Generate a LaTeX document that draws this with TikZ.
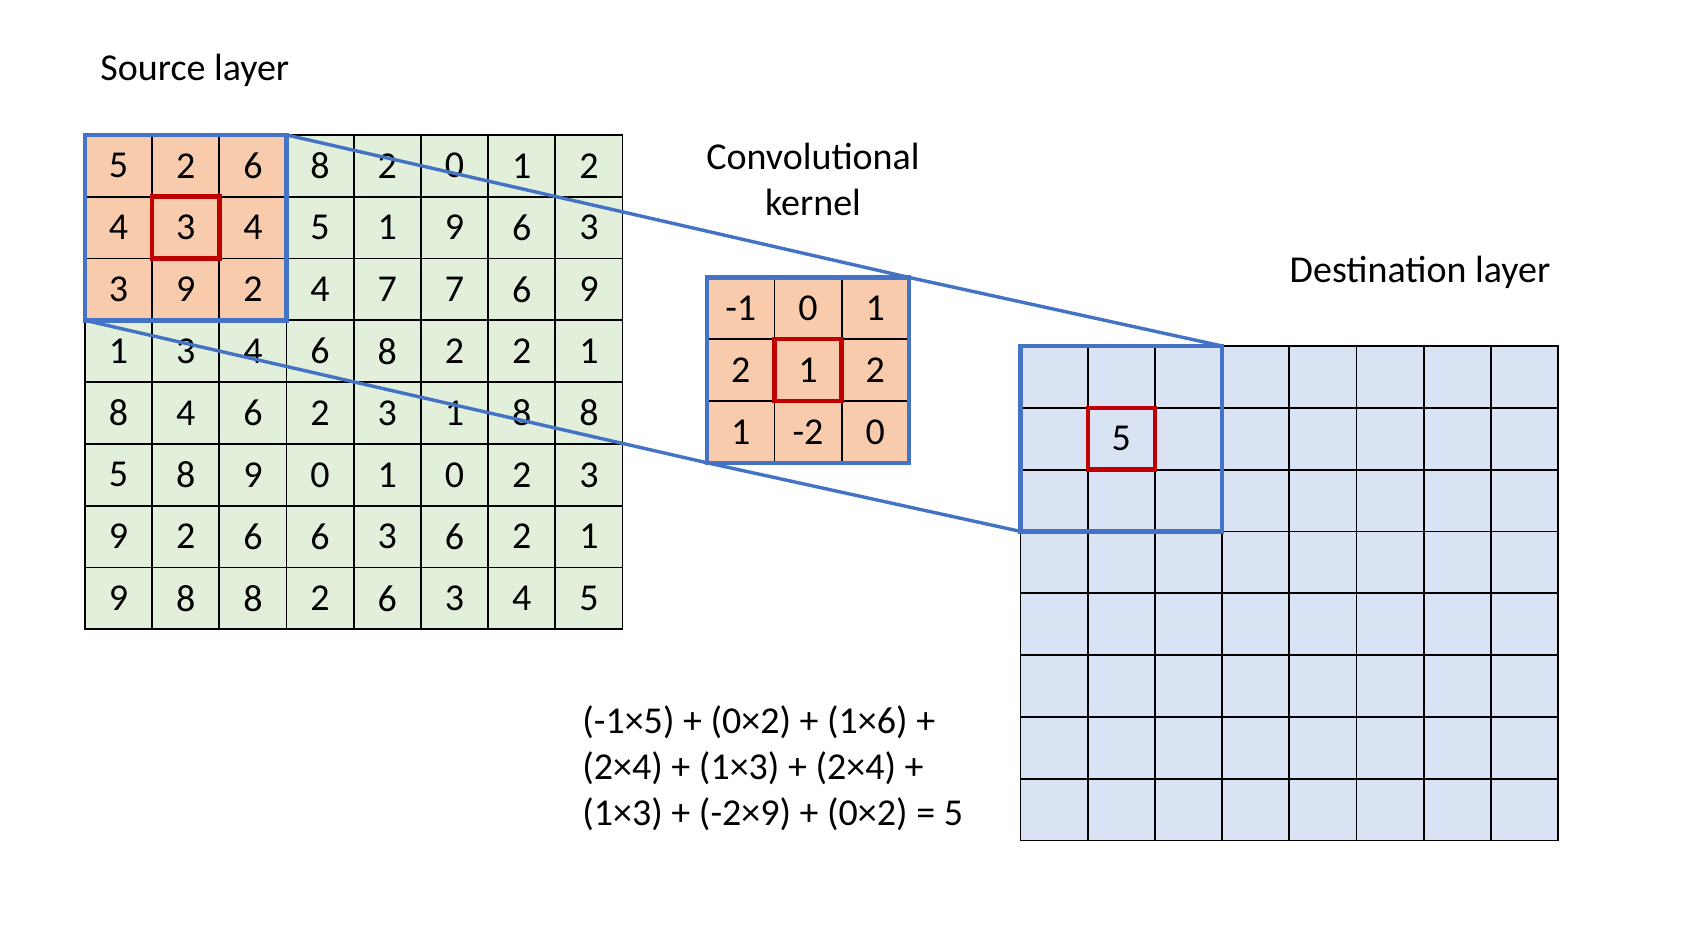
\documentclass[tikz,border=0pt]{standalone}
\usepackage{fontspec}
\setmainfont{Carlito}
\usetikzlibrary{positioning, fit, calc}
\definecolor{srcfill}{HTML}{E2EFDA}
\definecolor{kerfill}{HTML}{F8CBAD}
\definecolor{dstfill}{HTML}{DAE3F3}
\definecolor{winblue}{HTML}{4472C4}
\definecolor{hotred}{HTML}{C00000}

\begin{document}
\begin{tikzpicture}[
  x=0.5pt, y=-0.5pt,
  cell/.style={rectangle, draw=black, line width=0.9pt, inner sep=0pt, outer sep=0pt,
               minimum width=33.6pt, minimum height=30.9pt,
               font=\fontsize{19}{23}\selectfont},
  window/.style={draw=winblue, line width=2.2pt},
  focus/.style={draw=hotred, line width=2.2pt},
  link/.style={draw=winblue, line width=1.7pt},
  heading/.style={inner sep=0pt, font=\fontsize{19}{23}\selectfont}
]
  \path[fill=white, use as bounding box] (0,0) rectangle (1706,936);

  % source layer
  \foreach \row [count=\r] in {{5,2,6,8,2,0,1,2},{4,3,4,5,1,9,6,3},{3,9,2,4,7,7,6,9},
                               {1,3,4,6,8,2,2,1},{8,4,6,2,3,1,8,8},{5,8,9,0,1,0,2,3},
                               {9,2,6,6,3,6,2,1},{9,8,8,2,6,3,4,5}}
    \foreach \v [count=\c] in \row {
      \pgfmathtruncatemacro\inwin{(\r<4)&&(\c<4)}
      \ifnum\inwin=1 \def\fillc{kerfill}\else\def\fillc{srcfill}\fi
      \node[cell, fill=\fillc] (src-\r-\c) at ({84.9+(\c-0.5)*67.2}, {134.9+(\r-0.5)*61.8}) {\v};
    }

  % kernel
  \foreach \row [count=\r] in {{-1,0,1},{2,1,2},{1,-2,0}}
    \foreach \v [count=\c] in \row
      \node[cell, fill=kerfill] (ker-\r-\c) at ({707.2+(\c-0.5)*67.2}, {277.4+(\r-0.5)*61.8}) {\v};

  % destination layer
  \foreach \r in {1,...,8}
    \foreach \c in {1,...,8}
      \node[cell, fill=dstfill] (dst-\r-\c) at ({1020.5+(\c-0.5)*67.2}, {346+(\r-0.5)*61.8}) {};
  \node[cell, draw=none] (result) at (dst-2-2.center) {5};

  \draw[link] (src-1-3.north east) -- (ker-1-3.north east) -- (dst-1-3.north east);
  \draw[link] (src-3-1.south west) -- (ker-3-1.south west) -- (dst-3-1.south west);

  \draw[window] (src-1-1.north west) rectangle (src-3-3.south east);
  \draw[window] (ker-1-1.north west) rectangle (ker-3-3.south east);
  \draw[window] (dst-1-1.north west) rectangle (dst-3-3.south east);
  \draw[focus] (src-2-2.north west) rectangle (src-2-2.south east);
  \draw[focus] (ker-2-2.north west) rectangle (ker-2-2.south east);
  \draw[focus] (dst-2-2.north west) rectangle (dst-2-2.south east);

  \node[heading, anchor=base west] (srctitle) at (100,80.5) {Source layer};
  \node[heading, align=center] (kertitle) at (813,179.5) {Convolutional\\kernel};
  \node[heading, anchor=base] (dsttitle) at (1420,282) {Destination layer};
  \node[heading, align=left, anchor=north west] (sum) at (582,705)
    {(-1×5) + (0×2) + (1×6) +\\(2×4) + (1×3) + (2×4) +\\(1×3) + (-2×9) + (0×2) = 5};
\end{tikzpicture}
\end{document}
